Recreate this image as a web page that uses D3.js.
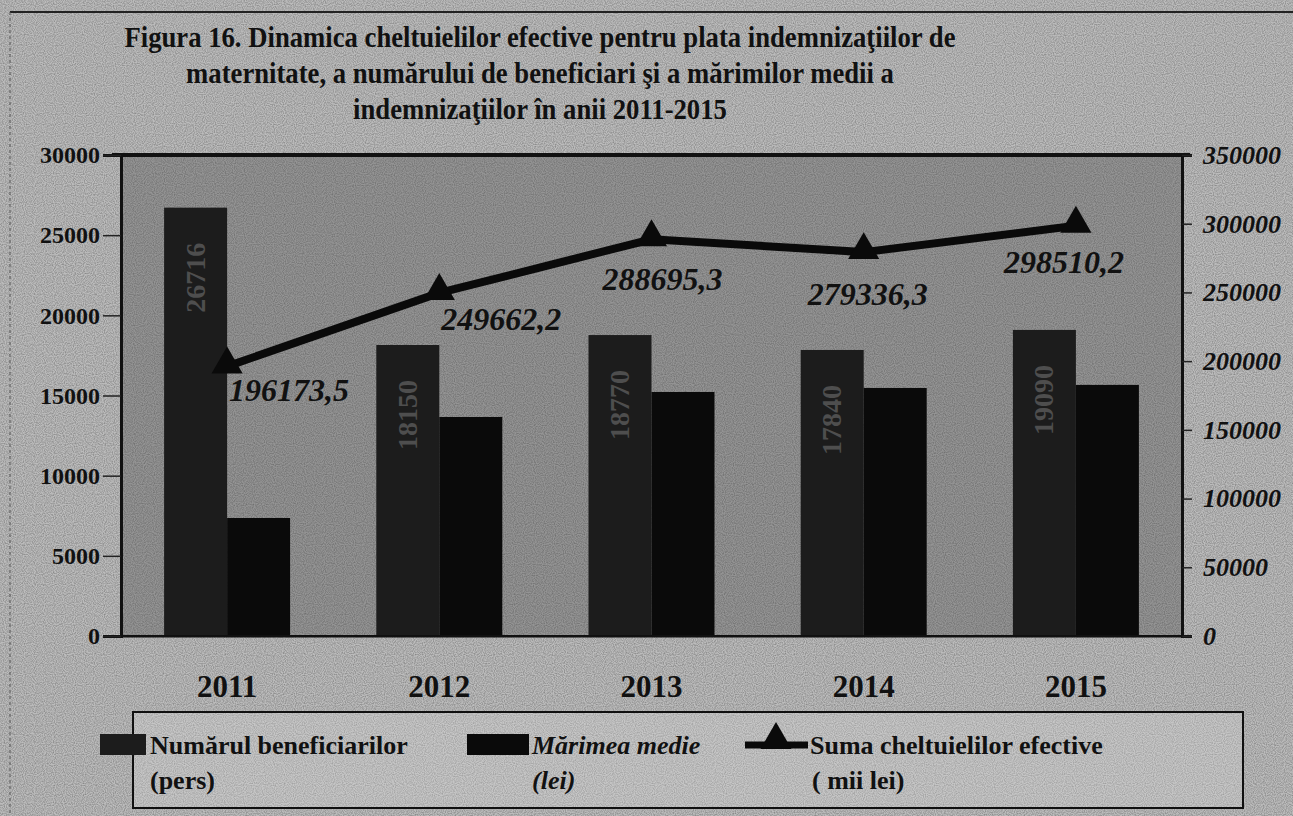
<!DOCTYPE html>
<html><head><meta charset="utf-8">
<script src="https://cdn.jsdelivr.net/npm/d3@7"></script>
<style>body{margin:0;background:#b4b4b4}svg{display:block}</style>
</head><body>
<script>
// ---- data ----
const years = ["2011","2012","2013","2014","2015"];
const beneficiari = [26716, 18150, 18770, 17840, 19090];
const marimeMedie = [7360, 13660, 15220, 15470, 15660];
const sumaCheltuieli = [196173.5, 249662.2, 288695.3, 279336.3, 298510.2];
const leftTicks = [0, 5000, 10000, 15000, 20000, 25000, 30000];
const rightTicks = [0, 50000, 100000, 150000, 200000, 250000, 300000, 350000];
const titleLines = ["Figura 16. Dinamica cheltuielilor efective pentru plata indemnizaţiilor de",
  "maternitate, a numărului de beneficiari şi a mărimilor medii a",
  "indemnizaţiilor în anii 2011-2015"];

const W = 1293, H = 816;
const svg = d3.select("body").append("svg").attr("width", W).attr("height", H);
const defs = svg.append("defs");
const f = defs.append("filter").attr("id","noise").attr("x",0).attr("y",0).attr("width","100%").attr("height","100%");
f.append("feTurbulence").attr("type","fractalNoise").attr("baseFrequency",0.9).attr("numOctaves",1).attr("seed",3).attr("result","t");
f.append("feColorMatrix").attr("in","t").attr("type","matrix")
 .attr("values","0 0 0 0 0  0 0 0 0 0  0 0 0 0 0  0 0 0 1.6 -0.55").attr("result","a");
f.append("feComposite").attr("in","a").attr("in2","SourceGraphic").attr("operator","in");

svg.append("rect").attr("width",W).attr("height",H).attr("fill","#bcbcbc");
svg.append("rect").attr("width",W).attr("height",H).attr("fill","#000").attr("filter","url(#noise)").attr("opacity",0.35);
svg.append("line").attr("x1",10).attr("x2",W).attr("y1",12).attr("y2",12).attr("stroke","#222").attr("stroke-width",2);
svg.append("line").attr("x1",10).attr("x2",10).attr("y1",12).attr("y2",H).attr("stroke","#555").attr("stroke-width",1).attr("stroke-dasharray","3,3");

const serif = "'Liberation Serif','Times New Roman',serif";
const tg = svg.append("g").attr("transform","translate(540,0) scale(0.92,1)");
tg.selectAll("text").data(titleLines).join("text")
  .attr("x", 0).attr("y", (d,i)=>47 + i*36).attr("text-anchor","middle")
  .attr("font-family", serif).attr("font-weight","bold").attr("font-size",29)
  .attr("fill","#111").text(d=>d);

const m = {l:121, r:1182, t:155, b:636};
const x0 = d3.scaleBand().domain(years).range([m.l, m.r]);
const x1 = d3.scaleBand().domain(["b","m"]).range([0, 126]);
const grpOff = (x0.bandwidth()-126)/2;
const yL = d3.scaleLinear().domain([0,30000]).range([m.b, m.t]);
const yR = d3.scaleLinear().domain([0,350000]).range([m.b, m.t]);

// plot area
svg.append("rect").attr("x",m.l).attr("y",m.t).attr("width",m.r-m.l).attr("height",m.b-m.t).attr("fill","#949494");
svg.append("rect").attr("x",m.l).attr("y",m.t).attr("width",m.r-m.l).attr("height",m.b-m.t).attr("fill","#000").attr("filter","url(#noise)").attr("opacity",0.3);

// bars
const g = svg.append("g");
years.forEach((yr,i)=>{
  const bx = x0(yr)+grpOff;
  g.append("rect").attr("x",bx+x1("b")).attr("y",yL(beneficiari[i])).attr("width",x1.bandwidth()).attr("height",yL(0)-yL(beneficiari[i])).attr("fill","#1c1c1c");
  g.append("rect").attr("x",bx+x1("m")).attr("y",yL(marimeMedie[i])).attr("width",x1.bandwidth()).attr("height",yL(0)-yL(marimeMedie[i])).attr("fill","#0a0a0a");
  const cx = bx+x1("b")+x1.bandwidth()/2;
  const cy = yL(beneficiari[i]) + 70;
  g.append("text").attr("transform",`translate(${cx+9},${cy}) rotate(-90)`).attr("text-anchor","middle")
   .attr("font-family",serif).attr("font-weight","bold").attr("font-size",28).attr("fill","#4e4e4e").text(beneficiari[i]);
});

// frame
svg.append("rect").attr("x",m.l).attr("y",m.t).attr("width",m.r-m.l).attr("height",m.b-m.t).attr("fill","none").attr("stroke","#111").attr("stroke-width",2);
svg.append("line").attr("x1",112).attr("x2",1190).attr("y1",m.t).attr("y2",m.t).attr("stroke","#111").attr("stroke-width",4);

// axes
const axL = svg.append("g").attr("transform",`translate(${m.l},0)`).call(d3.axisLeft(yL).tickValues(leftTicks).tickSize(18).tickPadding(3).tickFormat(d=>d));
axL.select(".domain").attr("stroke","#111").attr("stroke-width",3);
axL.selectAll(".tick line").attr("stroke","#222").attr("stroke-width",1.5);
axL.selectAll("text").attr("font-family",serif).attr("font-weight","bold").attr("font-size",24).attr("fill","#111");
const axR = svg.append("g").attr("transform",`translate(${m.r},0)`).call(d3.axisRight(yR).tickValues(rightTicks).tickSize(10).tickPadding(11).tickFormat(d=>d));
axR.select(".domain").attr("stroke","#111").attr("stroke-width",3);
axR.selectAll(".tick line").attr("stroke","#222").attr("stroke-width",1.5);
axR.selectAll("text").attr("font-family",serif).attr("font-weight","bold").attr("font-style","italic").attr("font-size",26).attr("fill","#111");
const axB = svg.append("g").attr("transform",`translate(0,${m.b})`).call(d3.axisBottom(x0).tickSize(0));
axB.select(".domain").attr("stroke","#111").attr("stroke-width",2);
axB.selectAll("text").attr("font-family",serif).attr("font-weight","bold").attr("font-size",31).attr("fill","#111").attr("dy",0).attr("y",61);

// line
const px = (d,i)=>x0(years[i])+x0.bandwidth()/2;
svg.append("path").datum(sumaCheltuieli)
  .attr("d", d3.line().x(px).y(d=>yR(d)))
  .attr("fill","none").attr("stroke","#0a0a0a").attr("stroke-width",8);
const tri = d3.symbol().type(d3.symbolTriangle).size(420);
svg.append("g").selectAll("path").data(sumaCheltuieli).join("path")
  .attr("transform",(d,i)=>`translate(${px(d,i)},${yR(d)-2})`).attr("d",tri).attr("fill","#0a0a0a");
const labelDx = [62, 62, 11, 4, -12];
const labelDy = [35, 37, 51, 53, 47];
svg.append("g").selectAll("text").data(sumaCheltuieli).join("text")
  .attr("x",(d,i)=>px(d,i)+labelDx[i]).attr("y",(d,i)=>yR(d)+labelDy[i]).attr("text-anchor","middle")
  .attr("font-family",serif).attr("font-weight","bold").attr("font-style","italic").attr("font-size",32).attr("fill","#111")
  .text(d=>d3.format(".1f")(d).replace(".",","));

// legend
const lg = svg.append("g");
lg.append("rect").attr("x",133).attr("y",712).attr("width",1110).attr("height",96).attr("fill","#c6c6c6").attr("stroke","#111").attr("stroke-width",2);
lg.append("rect").attr("x",133).attr("y",712).attr("width",1110).attr("height",96).attr("fill","#000").attr("filter","url(#noise)").attr("opacity",0.25);
lg.append("rect").attr("x",100).attr("y",734).attr("width",46).attr("height",21).attr("fill","#1c1c1c");
lg.append("rect").attr("x",467).attr("y",734).attr("width",62).attr("height",21).attr("fill","#0a0a0a");
lg.append("line").attr("x1",745).attr("x2",808).attr("y1",745).attr("y2",745).attr("stroke","#0a0a0a").attr("stroke-width",7);
lg.append("path").attr("transform","translate(776,740)").attr("d",tri).attr("fill","#0a0a0a");
const legText = [
  {x:150,y:754,t:"Numărul beneficiarilor",it:false},{x:150,y:789,t:"(pers)",it:false},
  {x:532,y:754,t:"Mărimea medie",it:true},{x:532,y:789,t:"(lei)",it:true},
  {x:810,y:754,t:"Suma cheltuielilor efective",it:false},{x:812,y:789,t:"( mii lei)",it:false}];
lg.selectAll("text").data(legText).join("text").attr("x",d=>d.x).attr("y",d=>d.y)
  .attr("font-family",serif).attr("font-weight","bold").attr("font-size",26).attr("font-style",d=>d.it?"italic":"normal")
  .attr("fill","#111").text(d=>d.t);
</script>
</body></html>
